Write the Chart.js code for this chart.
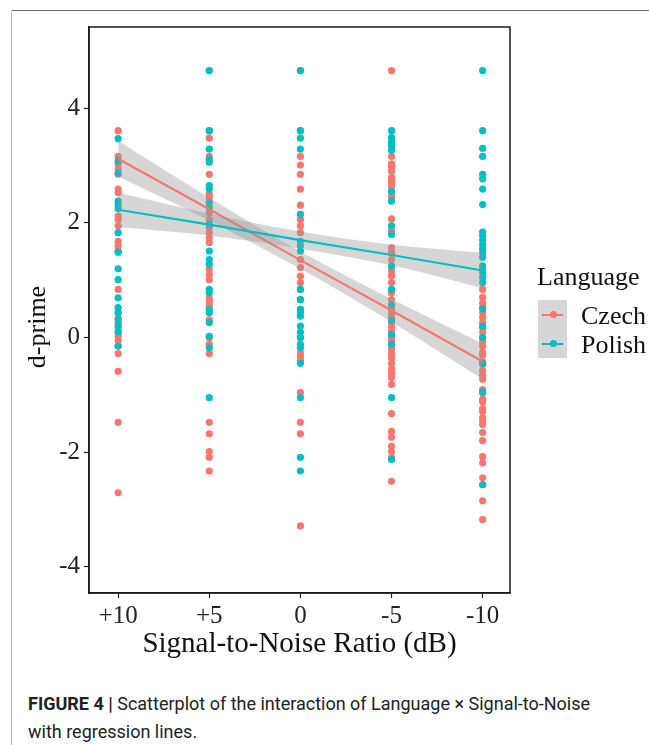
<!DOCTYPE html>
<html>
<head>
<meta charset="utf-8">
<script src="https://cdn.jsdelivr.net/npm/chart.js@4/dist/chart.umd.min.js"></script>
<style>
  html, body { margin: 0; padding: 0; background: #fff; }
  body { width: 649px; height: 745px; position: relative; overflow: hidden; }
  #frameTop { position: absolute; left: 11px; top: 10px; width: 638px; height: 0; border-top: 1.5px solid #6a6a6a; }
  #frameLeft { position: absolute; left: 11px; top: 10px; width: 0; height: 735px; border-left: 1.5px solid #bdbdbd; }
  #wrap { position: absolute; left: 0; top: 0; width: 649px; height: 670px; }
  #legend { position: absolute; left: 537px; top: 262px; font-family: "Liberation Serif", "Times New Roman", serif; color: #111; }
  #legend .title { font-family: "Liberation Serif", "Times New Roman", serif; font-size: 26px; line-height: 30px; margin-bottom: 8px; }
  #legend .item { position: relative; height: 29px; }
  #legend .key { position: absolute; left: 1px; top: 0; width: 29px; height: 29px; background: #d6d6d6; }
  #legend .key .ln { position: absolute; left: 4px; top: 13.5px; width: 21px; height: 2px; }
  #legend .key .dt { position: absolute; left: 11.5px; top: 11px; width: 7px; height: 7px; border-radius: 50%; }
  #legend .lbl { position: absolute; left: 44px; top: 1px; font-family: "Liberation Serif", "Times New Roman", serif; font-size: 26px; line-height: 29px; white-space: nowrap; }
  #caption { position: absolute; left: 28px; top: 690px; width: 600px; font-family: "Liberation Sans Narrow", "Arial Narrow", "Roboto", sans-serif; font-size: 18px; line-height: 28px; color: #222; }
  #caption b { font-weight: bold; }
</style>
</head>
<body>
<div id="frameTop"></div>
<div id="frameLeft"></div>
<div id="wrap"><canvas id="c" width="649" height="670"></canvas></div>
<div id="legend">
  <div class="title">Language</div>
  <div class="item"><div class="key"><div class="ln" style="background:#F8766D"></div><div class="dt" style="background:#F8766D"></div></div><div class="lbl">Czech</div></div>
  <div class="item"><div class="key"><div class="ln" style="background:#00BFC4"></div><div class="dt" style="background:#00BFC4"></div></div><div class="lbl">Polish</div></div>
</div>
<div id="caption"><b>FIGURE 4 |</b> Scatterplot of the interaction of Language × Signal-to-Noise<br>with regression lines.</div>
<script>
// x positions 1..5 correspond to these SNR labels
const xLabels = ["+10", "+5", "0", "-5", "-10"];
const yTicks = [-4, -2, 0, 2, 4];
const yTitle = "d-prime";
const xTitle = "Signal-to-Noise Ratio (dB)";

// d-prime values, per SNR level
const czech_p10 = [3.61, 3.16, 3.03, 2.94, 2.85, 2.59, 2.53, 2.12, 2.06, 1.95, 1.68, 1.60, 1.51, 0.84, 0.43, 0.34, 0.25, 0.17, 0.08, 0.02, -0.05, -0.15, -0.28, -0.59, -1.48, -2.71];
const czech_p5  = [4.66, 3.61, 3.48, 3.16, 2.85, 2.50, 2.44, 2.36, 2.18, 2.06, 1.92, 1.83, 1.74, 1.66, 1.19, 1.10, 1.01, 0.69, 0.63, 0.55, 0.31, 0.00, -0.12, -0.28, -1.48, -1.68, -1.99, -2.09, -2.33];
const czech_0   = [4.66, 3.61, 3.16, 3.01, 2.85, 2.59, 2.31, 2.15, 2.06, 1.95, 1.83, 1.36, 1.22, 1.07, 0.96, 0.84, 0.66, 0.49, 0.00, -0.27, -0.33, -0.40, -0.96, -1.48, -1.68, -3.29];
const czech_m5  = [4.66, 3.16, 3.03, 2.98, 2.90, 2.79, 2.72, 2.64, 2.46, 2.07, 1.86, 1.57, 1.48, 1.36, 1.16, 1.07, 0.96, 0.78, 0.66, 0.49, 0.40, 0.33, 0.26, 0.18, 0.10, 0.02, -0.05, -0.12, -0.20, -0.28, -0.36, -0.45, -0.55, -0.62, -0.70, -0.82, -1.33, -1.64, -1.74, -1.90, -1.99, -2.09, -2.51];
const czech_m10 = [1.19, 0.84, 0.70, 0.60, 0.52, 0.43, 0.35, 0.26, 0.17, 0.09, 0.00, -0.07, -0.15, -0.26, -0.31, -0.42, -0.47, -0.58, -0.66, -0.73, -0.91, -0.97, -1.08, -1.12, -1.24, -1.29, -1.40, -1.45, -1.52, -1.66, -1.80, -2.08, -2.19, -2.45, -2.57, -2.85, -3.18];

const polish_p10 = [3.47, 3.08, 2.87, 2.38, 2.32, 2.25, 1.83, 1.49, 1.20, 1.01, 0.69, 0.52, 0.43, 0.31, 0.20, 0.10, -0.15];
const polish_p5  = [4.66, 3.61, 3.29, 3.11, 3.06, 2.65, 2.59, 2.36, 2.27, 1.98, 1.51, 1.36, 1.28, 0.84, 0.78, 0.49, 0.43, 0.26, 0.02, -0.18, -1.05];
const polish_0   = [4.66, 3.61, 3.48, 3.29, 2.15, 1.68, 1.60, 1.51, 0.84, 0.66, 0.49, 0.43, 0.37, 0.20, 0.09, 0.00, -0.12, -0.18, -0.45, -1.05, -2.09, -2.33];
const polish_m5  = [3.61, 3.49, 3.41, 3.35, 3.27, 2.55, 2.38, 1.95, 1.80, 1.25, 0.84, 0.57, 0.30, 0.05, -0.12, -1.05, -2.13];
const polish_m10 = [4.66, 3.61, 3.30, 3.16, 2.85, 2.77, 2.59, 2.32, 1.84, 1.78, 1.70, 1.62, 1.55, 1.48, 1.40, 1.25, 1.13, 1.05, 0.96, 0.50, 0.20, 0.00, -0.45, -0.95, -2.57];

// regression lines and confidence bands, read at x = 1..5
const czechFit   = [3.12, 2.24, 1.35, 0.47, -0.42];
const czechUpper = [3.43, 2.44, 1.50, 0.67, -0.11];
const czechLower = [2.81, 2.04, 1.20, 0.27, -0.73];
const polishFit   = [2.23, 1.97, 1.70, 1.44, 1.17];
const polishUpper = [2.53, 2.16, 1.85, 1.62, 1.48];
const polishLower = [1.93, 1.78, 1.55, 1.26, 0.86];

const CZ = "#F8766D", PL = "#00BFC4", BAND = "rgba(153,153,153,0.4)";

function pts(cols) {
  const out = [];
  cols.forEach((arr, i) => arr.forEach(v => out.push({ x: i + 1, y: v })));
  return out;
}
function series(vals) { return vals.map((v, i) => ({ x: i + 1, y: v })); }

const czechPts = pts([czech_p10, czech_p5, czech_0, czech_m5, czech_m10]);
const polishPts = pts([polish_p10, polish_p5, polish_0, polish_m5, polish_m10]);

const lineBase = { type: "line", pointRadius: 0, pointHoverRadius: 0, tension: 0 };

const panelBorder = {
  id: "panelBorder",
  afterDraw(chart) {
    const a = chart.chartArea, ctx = chart.ctx;
    ctx.save();
    ctx.strokeStyle = "#1a1a1a";
    ctx.lineWidth = 1.5;
    ctx.strokeRect(a.left, a.top, a.right - a.left, a.bottom - a.top);
    // y-axis title, placed like ggplot's (slightly below panel centre in the reference)
    ctx.fillStyle = "#111";
    ctx.font = "26px 'Liberation Serif'";
    ctx.textAlign = "center";
    ctx.textBaseline = "middle";
    ctx.translate(38, (a.top + a.bottom) / 2 + 17);
    ctx.rotate(-Math.PI / 2);
    ctx.fillText(yTitle, 0, 0);
    ctx.restore();
  }
};

new Chart(document.getElementById("c"), {
  type: "scatter",
  data: {
    datasets: [
      Object.assign({}, lineBase, { label: "PolishFit", data: series(polishFit), borderColor: PL, borderWidth: 2.2, fill: false, order: 1 }),
      Object.assign({}, lineBase, { label: "PolishUpper", data: series(polishUpper), borderWidth: 0, borderColor: "rgba(0,0,0,0)", backgroundColor: BAND, fill: "+1", order: 2, cubicInterpolationMode: "monotone" }),
      Object.assign({}, lineBase, { label: "PolishLower", data: series(polishLower), borderWidth: 0, borderColor: "rgba(0,0,0,0)", fill: false, order: 2, cubicInterpolationMode: "monotone" }),
      Object.assign({}, lineBase, { label: "CzechFit", data: series(czechFit), borderColor: CZ, borderWidth: 2.2, fill: false, order: 3 }),
      Object.assign({}, lineBase, { label: "CzechUpper", data: series(czechUpper), borderWidth: 0, borderColor: "rgba(0,0,0,0)", backgroundColor: BAND, fill: "+1", order: 4, cubicInterpolationMode: "monotone" }),
      Object.assign({}, lineBase, { label: "CzechLower", data: series(czechLower), borderWidth: 0, borderColor: "rgba(0,0,0,0)", fill: false, order: 4, cubicInterpolationMode: "monotone" }),
      { label: "Polish", data: polishPts, backgroundColor: PL, borderWidth: 0, pointRadius: 3.6, order: 5 },
      { label: "Czech", data: czechPts, backgroundColor: CZ, borderWidth: 0, pointRadius: 3.6, order: 6 }
    ]
  },
  options: {
    responsive: false,
    animation: false,
    events: [],
    layout: { padding: { top: 27, right: 139, left: 0, bottom: 0 } },
    plugins: { legend: { display: false }, tooltip: { enabled: false } },
    scales: {
      x: {
        type: "linear",
        min: 0.68,
        max: 5.30,
        afterBuildTicks(s) { s.ticks = xLabels.map((_, i) => ({ value: i + 1 })); },
        afterFit(s) { s.height = 77; },
        ticks: {
          callback: (v) => xLabels[Math.round(v) - 1],
          font: { family: "Liberation Serif", size: 25 },
          color: "#222",
          padding: 3,
          maxRotation: 0,
          autoSkip: false
        },
        grid: { display: true, drawOnChartArea: false, drawTicks: true, tickLength: 5, color: "#222", tickWidth: 1.2 },
        border: { display: true, color: "#1a1a1a", width: 1.5 },
        title: {
          display: true,
          text: xTitle,
          font: { family: "Liberation Serif", size: 29, lineHeight: 1 },
          color: "#111",
          padding: { top: 0, bottom: 11 }
        }
      },
      y: {
        type: "linear",
        min: -4.46,
        max: 5.42,
        afterBuildTicks(s) { s.ticks = yTicks.map(v => ({ value: v })); },
        afterFit(s) { s.width = 89; },
        ticks: {
          font: { family: "Liberation Serif", size: 25 },
          color: "#222",
          padding: 4
        },
        grid: { display: true, drawOnChartArea: false, drawTicks: true, tickLength: 5, color: "#222", tickWidth: 1.2 },
        border: { display: true, color: "#1a1a1a", width: 1.5 },
        title: { display: false }
      }
    }
  },
  plugins: [panelBorder]
});
</script>
</body>
</html>
